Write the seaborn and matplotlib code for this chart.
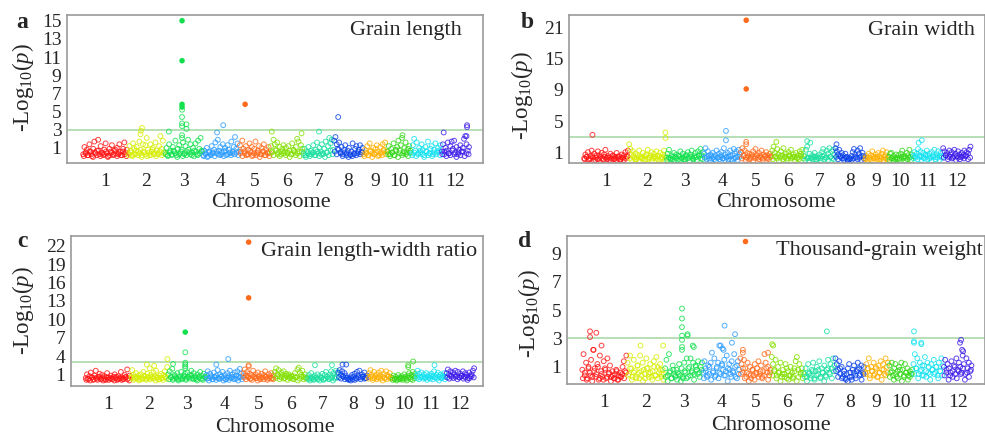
import numpy as np
import pandas as pd
import matplotlib
matplotlib.use("Agg")
import matplotlib.pyplot as plt
import seaborn as sns

sns.set_style("white")
plt.rcParams['font.family'] = ['Liberation Serif', 'DejaVu Serif']
plt.rcParams['mathtext.fontset'] = 'custom'
plt.rcParams['mathtext.rm'] = 'Liberation Serif'
plt.rcParams['mathtext.it'] = 'Liberation Serif:italic'

# rice chromosomes (Mb)
chrom_names = [str(i) for i in range(1, 13)]
chrom_len = [43.3, 35.9, 36.4, 35.5, 30.0, 31.2, 29.7, 28.4, 23.0, 23.2, 29.0, 27.5]
chrom_colors = ['#ff1414', '#d6ee00', '#12e04c', '#2b9cff', '#ff6a1c', '#82e000',
                '#1ae0a0', '#0a42e8', '#ffb000', '#34d81a', '#12e2f0', '#3c1ae8']

# ---- a: grain length ----
gl_bg = [
    [0.3,1.1,0.5,0.8,0.2,1.4,0.6,0.1,0.9,1.7,0.4,0.7,1.9,0.3,1.2,0.5,0.2,0.8,1.5,0.4,0.1,0.9,0.6,1.3,0.2,0.7,0.4,1.0,0.3,1.4,0.6,0.2,0.9,1.6,0.5,0.8],
    [0.4,1.2,0.7,0.2,1.5,0.9,0.3,1.1,0.6,1.7,0.8,0.2,1.4,0.5,1.3,2.1,0.8,0.2,1.4,0.6,1.0,0.3,1.6,0.7,0.4,1.2,2.3,0.9,1.8,0.5],
    [0.5,1.0,0.2,1.4,0.7,0.3,1.1,0.6,1.8,0.2,0.9,1.3,0.4,0.8,1.6,0.3,1.2,0.6,1.9,0.5,1.4,0.2,1.0,0.7,1.5,0.3,1.8,0.9,2.1,0.6],
    [0.2,0.7,0.4,1.0,0.1,0.6,0.3,1.2,0.5,0.8,1.6,0.4,1.9,0.7,1.1,0.3,1.4,0.6,1.0,0.2,1.3,0.8,0.5,1.7,0.4,1.1,2.2,0.9,1.5,0.6],
    [1.3,0.6,1.8,0.9,0.4,1.2,0.3,0.8,1.5,0.5,1.1,0.2,0.9,1.7,0.4,0.7,1.2,0.3,1.0,0.6,1.4,0.2,0.8,0.5,1.1,0.4],
    [1.2,0.6,1.9,1.4,0.8,1.6,0.5,1.1,0.3,0.9,1.3,0.6,1.0,0.4,1.2,0.7,0.3,1.5,0.8,0.5,1.1,2.0,1.7,0.6,1.3,0.9],
    [0.4,0.9,0.2,0.6,1.1,0.3,0.7,0.5,1.3,0.2,0.8,1.6,0.4,1.0,0.6,1.4,0.3,0.9,1.7,0.5,1.2,2.1,1.5,1.9,0.8],
    [1.8,2.2,1.4,0.9,1.6,0.5,1.1,0.3,0.8,1.3,0.4,0.7,1.0,0.2,0.6,1.5,0.3,0.9,1.2,0.4,0.8,1.3,0.5,1.0],
    [0.3,0.8,0.5,1.2,0.2,1.5,0.7,0.4,1.0,0.3,0.9,1.3,0.6,0.2,1.1,0.5,1.4,0.8,1.6,0.6],
    [0.6,1.2,0.3,0.9,0.5,1.5,0.2,0.8,1.1,1.8,0.7,1.3,2.1,0.4,1.0,1.6,0.5,0.9,1.2,0.7],
    [0.4,1.3,2.0,0.7,1.6,0.3,1.0,0.5,1.4,0.8,0.2,1.1,0.6,1.7,0.4,0.9,1.2,0.3,0.8,1.5,0.5,1.0,0.7,1.3],
    [0.6,1.4,0.3,1.0,0.7,1.6,0.4,1.2,1.7,0.9,1.8,0.5,1.1,0.3,0.8,1.3,0.6,1.0,2.0,2.3,1.4,0.7,1.1],
]
gl_core = [
    [0.1,0.4,0.2,0.6,0.3,0.0,0.5,0.2,0.7,0.1,0.4,0.3,0.6,0.0,0.2,0.5,0.3,0.8,0.1,0.4,0.2,0.6,0.3,0.1],
    [0.2,0.5,0.1,0.3,0.7,0.2,0.4,0.0,0.6,0.3,0.1,0.5,0.2,0.8,0.4,0.1,0.3,0.6,0.2,0.4],
    [0.3,0.1,0.5,0.2,0.7,0.4,0.0,0.3,0.6,0.1,0.4,0.2,0.8,0.3,0.5,0.1,0.6,0.2,0.4,0.7],
    [0.1,0.3,0.0,0.5,0.2,0.4,0.1,0.6,0.3,0.2,0.5,0.1,0.7,0.3,0.4,0.2,0.6,0.3,0.5,0.2],
    [0.4,0.1,0.6,0.2,0.3,0.7,0.1,0.4,0.2,0.5,0.0,0.3,0.6,0.2,0.4,0.1],
    [0.5,0.2,0.7,0.3,0.1,0.6,0.4,0.2,0.5,0.0,0.3,0.7,0.2,0.4,0.1,0.6],
    [0.2,0.0,0.4,0.1,0.3,0.5,0.2,0.6,0.1,0.3,0.4,0.0,0.5,0.2,0.7,0.3],
    [0.6,0.3,0.8,0.4,0.1,0.5,0.2,0.0,0.3,0.1,0.4,0.2,0.6,0.3,0.5],
    [0.1,0.4,0.2,0.6,0.0,0.3,0.5,0.1,0.4,0.2,0.7,0.3],
    [0.3,0.1,0.5,0.2,0.7,0.0,0.4,0.2,0.6,0.3,0.1,0.5],
    [0.2,0.5,0.1,0.4,0.7,0.3,0.0,0.6,0.2,0.4,0.1,0.5,0.3,0.6,0.2],
    [0.3,0.6,0.1,0.4,0.2,0.7,0.3,0.0,0.5,0.2,0.6,0.1,0.4,0.3],
]
gl_top_chr = [3, 3, 3, 3, 3, 3, 3, 3, 3, 3, 3, 3, 5, 4, 4, 8, 2, 2, 2, 6, 7, 6, 10, 12, 12, 12, 12, 3]
gl_top_pos = [16.7, 16.7, 16.7, 16.7, 16.7, 16.7, 16.7, 16.7, 16.7, 16.7, 21.0, 21.0, 5.6, 20.0, 14.0, 4.4,
              14.0, 13.0, 12.5, 1.3, 15.6, 30.0, 15.0, 2.5, 25.0, 25.0, 24.5, 4.0]
gl_top_val = [15.0, 10.6, 5.8, 5.5, 5.2, 4.4, 3.7, 3.4, 2.4, 2.1, 3.6, 3.1, 5.8, 3.5, 2.7, 4.4,
              3.2, 2.9, 2.5, 2.8, 2.8, 2.6, 2.4, 2.7, 3.5, 3.3, 2.3, 2.8]

# ---- b: grain width ----
gw_bg = [
    [0.3,0.8,0.5,1.1,0.2,0.6,1.3,0.4,0.9,0.1,0.7,1.2,0.3,0.5,1.0,0.2,0.8,1.4,0.4,0.6,0.1,0.9,0.3,0.7,0.2,0.5,1.0,0.3,0.6,0.1,0.8,0.4,0.7,1.1,0.5,1.3],
    [2.1,1.5,0.8,1.2,0.4,0.9,0.2,0.7,1.3,0.5,0.3,1.0,0.6,0.2,0.8,1.4,0.4,0.7,1.1,0.3,0.9,0.5,1.2,0.2,0.6,1.0,0.4,0.8,1.3,0.6],
    [0.4,0.9,1.4,0.3,0.7,0.2,1.0,0.5,0.8,0.1,0.6,1.2,0.3,0.9,0.5,0.2,0.7,1.1,0.4,0.8,1.3,0.3,0.6,1.0,0.5,1.2,0.8,1.5,0.7,1.1],
    [0.9,1.6,0.5,1.2,0.3,0.8,0.6,1.0,0.2,0.7,1.3,0.4,0.9,0.5,1.1,0.3,1.6,0.8,0.4,1.0,0.6,1.3,0.2,0.7,1.5,0.9,1.2,0.5,1.4,0.8],
    [1.1,1.6,0.7,1.3,0.4,1.0,0.6,0.9,0.3,0.8,1.2,0.5,1.5,0.7,0.4,1.0,0.6,1.3,0.3,0.8,0.5,1.1,0.7,0.4,0.9,0.6],
    [1.3,1.8,1.0,0.6,1.5,0.8,0.4,1.2,0.7,1.6,0.5,0.9,0.3,1.1,0.6,1.4,0.4,0.8,0.5,1.0,0.3,0.7,1.2,0.9,1.4,0.6],
    [0.6,1.4,1.8,0.4,0.9,0.3,0.7,0.5,1.0,0.2,0.6,0.4,0.8,0.3,1.1,1.5,0.7,0.4,1.3,0.9,1.6,0.5,1.2,1.4,0.8],
    [1.6,1.2,0.8,1.4,0.5,1.0,0.7,0.3,0.9,0.5,0.2,0.4,0.3,0.6,1.1,1.5,0.8,0.4,1.3,0.9,1.6,0.6,1.0,0.3],
    [0.3,0.6,0.4,0.9,0.2,0.7,1.2,0.5,0.3,0.8,0.4,1.0,0.6,0.2,0.9,1.3,0.5,0.7,1.1,0.4],
    [0.5,0.9,1.0,0.3,0.6,0.2,0.8,0.4,0.7,0.3,0.9,1.3,0.5,0.6,0.4,1.0,0.7,1.4,0.5,0.8],
    [0.6,1.1,0.4,0.9,1.5,0.7,1.2,0.5,1.0,0.3,0.8,1.3,0.6,0.9,0.4,1.1,0.7,1.4,0.5,0.8,1.2,0.6,1.0,0.4],
    [1.6,1.2,0.7,1.0,0.5,1.3,0.8,1.1,0.4,1.4,0.9,0.6,1.2,0.8,0.5,1.0,0.7,1.3,0.6,1.1,0.9,1.4,1.8],
]
gw_core = [
    [0.2,0.5,0.1,0.3,0.6,0.0,0.4,0.2,0.7,0.3,0.1,0.5,0.2,0.4,0.0,0.6,0.3,0.1,0.5,0.2,0.4,0.1,0.3,0.6],
    [0.3,0.1,0.6,0.2,0.4,0.0,0.5,0.3,0.1,0.7,0.2,0.4,0.1,0.5,0.3,0.6,0.0,0.2,0.4,0.1],
    [0.1,0.4,0.2,0.5,0.0,0.3,0.6,0.1,0.4,0.2,0.7,0.3,0.0,0.5,0.2,0.4,0.1,0.6,0.3,0.2],
    [0.4,0.2,0.6,0.1,0.3,0.5,0.0,0.4,0.2,0.7,0.3,0.1,0.5,0.2,0.6,0.0,0.3,0.4,0.1,0.5],
    [0.3,0.6,0.1,0.4,0.2,0.5,0.0,0.3,0.7,0.2,0.4,0.1,0.6,0.3,0.2,0.5],
    [0.2,0.5,0.3,0.0,0.6,0.2,0.4,0.1,0.7,0.3,0.5,0.1,0.4,0.2,0.6,0.3],
    [0.1,0.3,0.0,0.4,0.2,0.5,0.1,0.3,0.0,0.6,0.2,0.4,0.1,0.5,0.3,0.2],
    [0.5,0.2,0.6,0.3,0.1,0.4,0.0,0.2,0.1,0.3,0.5,0.2,0.4,0.1,0.6],
    [0.2,0.0,0.4,0.1,0.3,0.5,0.2,0.0,0.4,0.1,0.3,0.2],
    [0.1,0.3,0.0,0.4,0.2,0.1,0.5,0.3,0.0,0.2,0.4,0.1],
    [0.3,0.6,0.2,0.5,0.1,0.4,0.7,0.2,0.3,0.0,0.5,0.2,0.4,0.1,0.6],
    [0.4,0.7,0.2,0.5,0.3,0.6,0.1,0.4,0.2,0.5,0.3,0.7,0.2,0.4],
]
gw_top_chr = [1, 2, 2, 4, 4, 5, 5, 5, 5, 6, 7, 7, 11, 11, 8]
gw_top_pos = [8.6, 35.5, 35.5, 21.5, 21.5, 5.5, 5.5, 5.5, 5.5, 4.5, 3.0, 6.0, 9.0, 6.0, 1.5]
gw_top_val = [3.3, 3.6, 2.9, 3.8, 2.6, 22.3, 9.2, 2.4, 2.1, 2.4, 2.5, 2.3, 2.6, 2.3, 2.1]

# ---- c: grain length-width ratio ----
lwr_bg = [
    [0.4,1.0,0.2,0.7,1.3,0.5,0.1,0.8,1.6,0.3,0.6,1.1,0.2,0.9,0.4,0.7,0.1,1.2,0.5,0.3,0.8,0.2,0.6,1.0,0.4,0.1,0.7,0.3,1.4,0.5,0.2,0.9,0.6,1.8,0.4,0.8],
    [0.6,1.7,0.9,0.3,1.2,0.5,0.8,0.2,1.0,0.4,1.4,0.7,0.3,1.1,0.6,2.0,0.9,0.4,1.3,0.7,1.6,0.5,0.2,0.8,1.1,0.4,0.9,1.5,0.6,2.2],
    [1.0,1.5,0.6,1.9,0.3,0.9,0.5,1.2,0.2,0.7,1.4,0.4,0.8,1.1,0.3,1.3,0.6,0.9,1.6,0.4,1.2,0.7,0.2,1.0,0.5,1.4,0.8,0.3,1.1,0.6],
    [0.9,1.5,0.4,1.1,0.7,0.2,1.3,0.5,0.8,1.7,0.3,1.0,0.6,1.4,0.4,0.9,0.2,1.2,0.7,1.6,0.5,1.0,0.3,1.3,0.8,1.5,0.6,1.9,1.1,0.7],
    [1.2,1.8,0.8,1.4,0.5,1.1,0.3,0.9,1.6,0.6,1.0,0.4,1.3,0.7,0.2,1.1,0.5,0.9,1.5,0.6,0.3,1.0,0.7,1.2,0.4,0.8],
    [1.4,2.0,1.0,1.7,0.6,1.3,0.9,1.5,0.4,1.1,0.7,1.0,0.5,0.8,0.3,0.7,1.2,0.5,1.8,2.1,1.3,0.9,1.6,0.6,1.0,0.4],
    [0.5,0.9,0.3,1.2,0.6,0.2,0.8,0.4,1.0,0.3,0.7,0.5,1.1,0.2,0.9,1.4,0.6,0.3,1.0,1.5,0.7,1.2,0.5,1.6,1.3],
    [1.3,1.7,0.9,1.5,0.6,1.2,0.8,0.4,0.2,0.3,0.5,0.9,0.6,1.1,0.4,1.4,0.8,1.6,0.5,1.0,0.7,1.3,0.4,0.8],
    [0.6,1.2,1.7,0.9,0.4,1.4,0.7,1.0,0.5,1.3,0.8,1.6,0.6,1.1,0.4,1.5,0.9,0.7,1.2,0.5],
    [0.4,0.8,0.2,0.6,0.3,0.9,0.5,0.2,0.7,0.4,1.0,0.6,0.3,0.8,1.2,0.5,0.9,1.4,0.7,1.1],
    [0.8,1.6,1.1,0.5,1.3,0.7,1.0,0.4,1.2,0.6,0.9,0.3,1.1,0.7,1.5,0.5,0.9,1.3,0.6,1.0,0.4,0.8,1.2,0.6],
    [1.2,1.8,0.9,1.5,0.6,1.3,1.0,1.6,0.7,1.4,0.5,1.1,0.8,1.5,0.6,1.2,0.9,0.4,1.3,0.7,1.0,1.6,2.0],
]
lwr_core = [
    [0.1,0.3,0.0,0.5,0.2,0.4,0.1,0.6,0.3,0.0,0.2,0.5,0.1,0.4,0.3,0.0,0.6,0.2,0.4,0.1,0.3,0.5,0.2,0.0],
    [0.4,0.1,0.6,0.3,0.0,0.5,0.2,0.7,0.1,0.4,0.2,0.6,0.3,0.0,0.5,0.2,0.4,0.1,0.6,0.3],
    [0.2,0.5,0.1,0.7,0.3,0.0,0.4,0.2,0.6,0.1,0.5,0.3,0.8,0.2,0.4,0.0,0.6,0.3,0.1,0.5],
    [0.3,0.0,0.5,0.2,0.6,0.1,0.4,0.3,0.7,0.0,0.2,0.5,0.1,0.4,0.6,0.2,0.3,0.0,0.5,0.2],
    [0.5,0.2,0.7,0.3,0.1,0.6,0.4,0.0,0.3,0.5,0.2,0.6,0.1,0.4,0.3,0.2],
    [0.4,0.7,0.2,0.5,0.3,0.8,0.1,0.4,0.6,0.2,0.5,0.0,0.3,0.6,0.2,0.4],
    [0.2,0.0,0.3,0.1,0.5,0.2,0.0,0.4,0.1,0.3,0.6,0.2,0.4,0.0,0.3,0.5],
    [0.5,0.3,0.7,0.2,0.4,0.1,0.0,0.2,0.1,0.3,0.5,0.2,0.6,0.3,0.4],
    [0.3,0.6,0.1,0.4,0.2,0.5,0.3,0.0,0.4,0.2,0.6,0.3],
    [0.1,0.3,0.0,0.2,0.4,0.1,0.3,0.0,0.5,0.2,0.1,0.4],
    [0.4,0.2,0.6,0.3,0.5,0.1,0.4,0.7,0.2,0.5,0.3,0.0,0.4,0.6,0.2],
    [0.5,0.3,0.8,0.4,0.6,0.2,0.5,0.7,0.3,0.6,0.1,0.4,0.7,0.5],
]
lwr_top_chr = [5, 5, 3, 3, 3, 3, 3, 3, 4, 2, 2, 2, 10, 10, 10, 5, 5, 7, 8, 8, 7, 11, 3, 4]
lwr_top_pos = [5.5, 5.5, 16.7, 16.7, 16.7, 16.7, 16.7, 16.7, 21.5, 35.5, 15.8, 22.8, 20.7, 16.0, 16.0,
               5.5, 5.5, 7.8, 4.5, 8.0, 24.0, 18.0, 5.0, 10.0]
lwr_top_val = [22.6, 13.5, 7.9, 4.6, 2.9, 2.6, 2.3, 2.0, 3.5, 3.5, 2.6, 2.4, 3.1, 2.5, 2.2,
               2.5, 2.3, 2.5, 2.6, 2.6, 2.5, 2.5, 2.7, 2.6]

# ---- d: thousand-grain weight ----
tgw_bg = [
    [0.8,1.9,0.4,1.3,0.2,1.0,0.6,1.5,0.3,2.2,0.9,0.5,1.2,0.1,1.8,0.7,0.3,1.4,0.9,0.2,1.6,0.5,1.1,0.3,0.7,0.2,0.5,0.8,0.1,0.4,0.6,0.3,1.0,1.4,0.7,1.8],
    [1.3,0.5,1.8,0.9,0.3,1.5,0.7,0.2,1.1,0.6,1.8,0.4,1.3,0.8,0.2,1.6,0.9,0.5,1.2,0.3,0.7,1.4,0.4,1.7,1.0,0.6,1.2,0.3,0.8,0.5],
    [0.9,1.5,0.4,1.9,0.7,0.2,1.1,0.5,0.3,0.8,0.6,1.2,0.4,0.9,0.2,1.3,0.6,1.6,0.3,1.0,1.6,0.7,1.3,0.5,1.1,0.8,1.4,0.6,1.0,1.3],
    [0.6,1.4,0.9,0.3,1.1,0.5,1.3,2.0,0.7,1.6,0.4,1.0,1.3,0.6,2.5,1.2,0.8,1.5,0.4,1.8,0.9,1.2,0.5,1.4,0.7,1.9,0.3,1.1,1.4,0.8],
    [1.6,1.2,0.6,1.5,0.9,0.3,1.3,0.5,1.0,0.2,0.8,0.4,1.2,0.6,0.9,1.4,0.5,1.1,0.3,0.7,1.9,1.3,0.6,1.0,0.4,0.8],
    [1.7,1.2,0.7,1.5,0.4,1.0,0.6,1.3,0.3,0.8,0.5,1.2,0.2,0.7,0.4,1.0,0.6,0.3,0.9,1.4,1.7,0.8,1.2,0.5,0.9,0.6],
    [0.5,0.9,0.3,1.2,0.6,0.4,0.8,1.3,0.2,0.7,1.0,0.5,1.4,0.3,0.9,0.6,1.1,0.4,0.8,1.5,0.6,1.2,0.9,1.6,1.1],
    [1.6,1.2,0.8,1.4,0.5,1.0,0.3,0.7,0.2,0.5,0.9,1.2,0.6,0.3,0.8,1.1,0.4,0.7,1.3,0.9,0.5,1.1,0.6,1.0],
    [0.6,1.2,0.9,1.6,0.4,1.0,0.7,1.3,0.5,0.9,0.3,1.1,0.6,1.4,0.8,1.2,0.5,1.6,1.0,1.3],
    [1.1,0.6,1.3,0.4,0.9,1.2,0.3,0.7,1.0,0.5,1.3,0.8,0.3,1.2,0.6,0.9,0.4,0.7,0.5,0.8],
    [1.2,1.9,0.9,1.6,0.5,1.3,0.8,1.1,0.4,1.7,0.7,1.3,1.0,0.5,1.2,0.8,1.5,0.6,1.0,0.4,1.3,0.7,1.6,1.1],
    [1.0,1.5,0.6,1.2,0.9,0.4,1.4,0.7,1.1,0.5,1.6,0.8,1.3,1.0,0.6,1.8,1.2,0.5,1.6,0.9,1.3,0.7,1.1],
]
tgw_core = [
    [0.2,0.6,0.1,0.9,0.4,0.0,0.7,0.3,1.0,0.2,0.5,0.1,0.8,0.3,0.6,0.0,0.4,0.2,0.7,0.1,0.3,0.5,0.2,0.6],
    [0.4,0.9,0.1,0.6,0.3,1.1,0.2,0.7,0.0,0.5,0.9,0.3,0.6,0.1,1.0,0.4,0.2,0.8,0.5,0.1],
    [0.3,0.0,0.6,0.2,0.8,0.4,0.1,0.5,0.0,0.3,0.7,0.2,0.9,0.4,0.6,0.1,1.0,0.5,0.3,0.8],
    [0.2,0.7,0.4,1.0,0.1,0.6,0.3,0.9,0.2,0.5,1.1,0.4,0.7,0.0,0.8,0.3,0.6,1.0,0.2,0.5],
    [0.5,0.9,0.2,0.6,0.0,0.4,0.8,0.1,0.5,0.3,0.7,0.2,0.4,0.9,0.1,0.6],
    [0.4,0.8,0.2,0.6,0.0,0.5,0.3,0.9,0.1,0.4,0.2,0.7,0.0,0.3,0.6,0.2],
    [0.3,0.0,0.5,0.2,0.7,0.1,0.4,0.8,0.2,0.6,0.0,0.3,0.9,0.5,0.2,0.7],
    [0.7,0.3,0.9,0.2,0.5,0.1,0.0,0.3,0.1,0.6,0.2,0.8,0.4,0.1,0.5],
    [0.5,0.9,0.2,0.7,0.4,1.0,0.3,0.6,0.1,0.8,0.4,0.6],
    [0.3,0.7,0.1,0.5,0.2,0.8,0.0,0.4,0.6,0.1,0.3,0.5],
    [0.5,0.9,0.2,0.7,0.4,1.1,0.3,0.6,0.1,0.8,0.5,1.0,0.2,0.7,0.4],
    [0.4,0.8,0.1,0.6,0.3,1.0,0.2,0.7,0.5,0.9,0.1,0.6,0.3,0.8],
]
tgw_top_chr = [1, 1, 1, 1, 1, 2, 2, 3, 3, 3, 3, 3, 3, 3, 3, 3, 3, 3, 4, 4, 4, 4, 4, 4,
               5, 5, 5, 5, 6, 6, 7, 11, 11, 11, 11, 11, 12, 12, 12, 12]
tgw_top_pos = [8.0, 8.0, 14.0, 19.0, 11.0, 13.0, 34.5, 16.7, 16.7, 16.7, 16.7, 16.7, 16.7, 16.7, 22.0, 22.0, 27.0, 28.0,
               21.0, 31.0, 28.0, 16.0, 19.0, 20.0, 5.3, 3.0, 3.0, 27.0, 1.0, 2.0, 22.0,
               1.0, 1.0, 1.0, 8.0, 8.0, 17.0, 16.0, 18.0, 19.0]
tgw_top_val = [3.5, 3.1, 3.4, 2.5, 2.2, 2.5, 2.5, 5.1, 4.4, 3.8, 3.2, 2.9, 2.4, 2.2, 3.3, 3.2, 2.5, 2.4,
               3.9, 3.3, 2.7, 2.5, 2.3, 2.2, 9.85, 2.2, 2.0, 2.0, 2.6, 2.5, 3.5,
               3.5, 2.8, 2.7, 2.7, 2.6, 2.9, 2.7, 2.2, 2.1]

panel_titles = ['Grain length', 'Grain width', 'Grain length-width ratio', 'Thousand-grain weight']
panel_letters = ['a', 'b', 'c', 'd']
panel_yticks = [[1, 3, 5, 7, 9, 11, 13, 15], [1, 5, 9, 15, 21],
                [1, 4, 7, 10, 13, 16, 19, 22], [1, 3, 5, 7, 9]]
THRESH = 3

starts = np.concatenate([[0], np.cumsum(chrom_len)[:-1]])
centers = starts + np.array(chrom_len) / 2
palette = dict(zip(chrom_names, chrom_colors))


def make_frame(bg, core, top_chr, top_pos, top_val):
    rows = []
    for ci, vals in enumerate(bg):
        pos = np.linspace(0.6, chrom_len[ci] - 0.6, len(vals))
        for p, v in zip(pos, vals):
            rows.append((chrom_names[ci], starts[ci] + p, v))
    for ci, vals in enumerate(core):
        pos = np.linspace(1.2, chrom_len[ci] - 1.0, len(vals))
        for p, v in zip(pos, vals):
            rows.append((chrom_names[ci], starts[ci] + p, v))
    for c, p, v in zip(top_chr, top_pos, top_val):
        rows.append((chrom_names[c - 1], starts[c - 1] + p, v))
    df = pd.DataFrame(rows, columns=['chrom', 'x', 'logp'])
    df['solid'] = df['logp'] >= 5.5
    return df


# panel b has a stretched axis: ticks 1,5,9,15,21 are equally spaced
b_vals = [-3, 1, 5, 9, 15, 21, 27]
b_idx = [-1, 0, 1, 2, 3, 4, 5]


def b_fwd(v):
    return np.interp(v, b_vals, b_idx)


def b_inv(t):
    return np.interp(t, b_idx, b_vals)


frames = [make_frame(gl_bg, gl_core, gl_top_chr, gl_top_pos, gl_top_val),
          make_frame(gw_bg, gw_core, gw_top_chr, gw_top_pos, gw_top_val),
          make_frame(lwr_bg, lwr_core, lwr_top_chr, lwr_top_pos, lwr_top_val),
          make_frame(tgw_bg, tgw_core, tgw_top_chr, tgw_top_pos, tgw_top_val)]

W, H = 985, 436
fig = plt.figure(figsize=(W / 100, H / 100), dpi=100)

# axes boxes in pixels: left, top, right, bottom
boxes = [(67, 15, 483, 163), (569, 15, 984.5, 163), (71, 236, 483, 386), (567, 236, 984.5, 384)]
xlims = [(-15, 386), (-14, 386), (-13.5, 381), (-14, 385)]
ylims = [(-0.66, 15.63), (-0.28, 23.3), (-0.9, 23.6), (-0.2, 10.2)]
title_pos = [(0.949, 0.894), (0.976, 0.892), (0.985, 0.898), (0.996, 0.904)]
letter_pos = [(16, 28), (521, 28.3), (17, 246.7), (518, 246.7)]
ylab_pos = [(22.5, 88), (521.7, 96), (22.5, 311), (529, 314)]
xlab_pos = [(271, 202), (776, 202), (275, 427), (771, 425)]

for i, df in enumerate(frames):
    l, t, r, b = boxes[i]
    ax = fig.add_axes([l / W, 1 - b / H, (r - l) / W, (b - t) / H])
    if i == 1:
        ax.set_yscale('function', functions=(b_fwd, b_inv))

    op = df[~df['solid']]
    sns.scatterplot(data=op, x='x', y='logp', hue='chrom', palette=palette, s=12,
                    linewidth=0.7, legend=False, ax=ax)
    coll = ax.collections[-1]
    fc = coll.get_facecolors()
    fc[:, 3] = 0.8
    coll.set_edgecolors(fc)
    coll.set_facecolors('none')

    sd = df[df['solid']]
    sns.scatterplot(data=sd, x='x', y='logp', hue='chrom', palette=palette, s=16,
                    linewidth=0, legend=False, ax=ax)

    ax.axhline(THRESH, color='#a3d6a3', lw=1.1, zorder=0)
    ax.set_xlim(*xlims[i])
    ax.set_ylim(*ylims[i])
    ax.set_xticks(centers)
    ax.set_xticklabels(chrom_names)
    ax.set_yticks(panel_yticks[i])
    ax.set_yticklabels([str(v) for v in panel_yticks[i]])
    ax.minorticks_off()
    ax.tick_params(axis='both', length=0, labelsize=14)
    ax.tick_params(axis='x', pad=7)
    ax.tick_params(axis='y', pad=4)
    ax.set_xlabel('')
    ax.set_ylabel('')
    for sp in ax.spines.values():
        sp.set_color('#999999')
        sp.set_linewidth(1.2)

    ax.text(title_pos[i][0], title_pos[i][1], panel_titles[i], transform=ax.transAxes,
            ha='right', va='center', fontsize=16)
    fig.text(letter_pos[i][0] / W, 1 - letter_pos[i][1] / H, panel_letters[i],
             ha='left', va='baseline', fontsize=17, fontweight='bold')
    fig.text(ylab_pos[i][0] / W, 1 - ylab_pos[i][1] / H, r'-Log$_{10}$($p$)',
             rotation=90, ha='center', va='center', fontsize=16.5)
    fig.text(xlab_pos[i][0] / W, 1 - xlab_pos[i][1] / H, 'Chromosome',
             ha='center', va='center', fontsize=16)

fig.savefig('out.png', dpi=100)
